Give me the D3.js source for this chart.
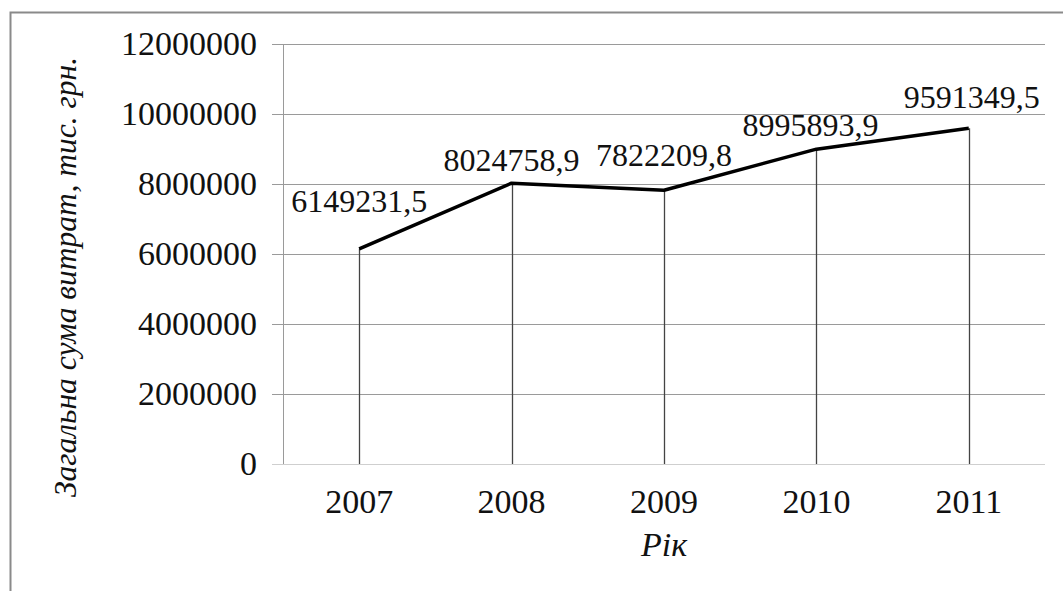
<!DOCTYPE html>
<html>
<head>
<meta charset="utf-8">
<script src="https://cdn.jsdelivr.net/npm/d3@7"></script>
<style>
  html, body { margin: 0; padding: 0; background: #fff; }
  svg { display: block; }
  svg text { font-family: "Liberation Serif", "Times New Roman", Times, "DejaVu Serif", serif; fill: #111; }
</style>
</head>
<body>
<svg id="chart" width="1063" height="591"></svg>
<script>
// Total expenditure by year, thousand UAH
const years = ["2007", "2008", "2009", "2010", "2011"];
const totals = [6149231.5, 8024758.9, 7822209.8, 8995893.9, 9591349.5];
const valueLabels = ["6149231,5", "8024758,9", "7822209,8", "8995893,9", "9591349,5"];
const yTicks = [0, 2000000, 4000000, 6000000, 8000000, 10000000, 12000000];

// Per-label nudges (dx, dy) from the point
const labelNudge = [[0, -37], [0, -12], [0, -24], [-6, -13], [3, -20]];

const svg = d3.select("#chart");
const W = 1063, H = 591;
const m = { left: 283, right: 18, top: 44, bottom: 127 };

const x = d3.scaleBand().domain(years).range([m.left, W - m.right]);
const y = d3.scaleLinear().domain([0, 12000000]).range([H - m.bottom, m.top]);

// frame
svg.append("path")
  .attr("d", `M10.5,${H} V12.5 H${W}`)
  .attr("fill", "none").attr("stroke", "#8a8a8a").attr("stroke-width", 2);

// horizontal gridlines
svg.append("g")
  .selectAll("line").data(yTicks).join("line")
  .attr("x1", m.left - 11).attr("x2", W - m.right)
  .attr("y1", d => Math.round(y(d)) + 0.5).attr("y2", d => Math.round(y(d)) + 0.5)
  .attr("stroke", d => (d === 0 ? "#cfcfcf" : "#9a9a9a"))
  .attr("stroke-width", 1);

// y axis
const yAxis = d3.axisLeft(y).tickValues(yTicks).tickFormat(d => String(d)).tickSize(0).tickPadding(26);
const gy = svg.append("g").attr("transform", `translate(${m.left},0)`).call(yAxis)
  .attr("font-family", null);
gy.select(".domain").attr("stroke", "#9a9a9a").attr("d", `M0.5,${y(12000000)}V${y(0)}`);
gy.selectAll("text").attr("font-size", 34).attr("fill", "#111");

// x axis labels
const xAxis = d3.axisBottom(x).tickSize(0).tickPadding(25);
const gx = svg.append("g").attr("transform", `translate(0,${y(0)})`).call(xAxis)
  .attr("font-family", null);
gx.select(".domain").remove();
gx.selectAll("text").attr("font-size", 34).attr("fill", "#111");

const cx = d => x(d) + x.bandwidth() / 2;

// drop lines
svg.append("g")
  .selectAll("line").data(years).join("line")
  .attr("x1", d => Math.round(cx(d)) + 0.5).attr("x2", d => Math.round(cx(d)) + 0.5)
  .attr("y1", (d, i) => y(totals[i])).attr("y2", y(0))
  .attr("stroke", "#444").attr("stroke-width", 1.3);

// series line
const line = d3.line().x((d, i) => cx(years[i])).y(d => y(d));
svg.append("path").datum(totals)
  .attr("d", line)
  .attr("fill", "none").attr("stroke", "#000").attr("stroke-width", 3.5)
  .attr("stroke-linejoin", "round");

// value labels
svg.append("g")
  .selectAll("text").data(totals).join("text")
  .attr("x", (d, i) => cx(years[i]) + labelNudge[i][0])
  .attr("y", (d, i) => y(d) + labelNudge[i][1])
  .attr("text-anchor", "middle")
  .attr("font-size", 32)
  .text((d, i) => valueLabels[i]);

// axis titles
svg.append("text")
  .attr("transform", "translate(76,277) rotate(-90)")
  .attr("text-anchor", "middle")
  .attr("font-size", 31.5).attr("font-style", "italic")
  .text("Загальна сума витрат, тис. грн.");

svg.append("text")
  .attr("x", cx("2009")).attr("y", 556)
  .attr("text-anchor", "middle")
  .attr("font-size", 34).attr("font-style", "italic")
  .text("Рік");
</script>
</body>
</html>
